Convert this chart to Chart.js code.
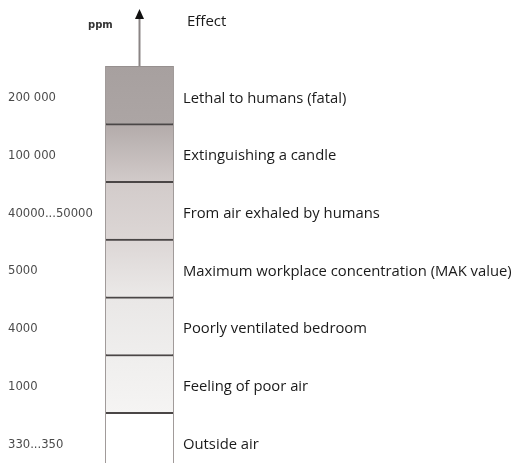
<!DOCTYPE html>
<html>
<head>
<meta charset="utf-8">
<script src="https://cdn.jsdelivr.net/npm/chart.js@4"></script>
<style>
  html, body { margin: 0; padding: 0; background: #fff; }
  #wrap { width: 515px; height: 463px; position: relative; }
</style>
</head>
<body>
<div id="wrap"><canvas id="co2Chart"></canvas></div>
<script>
// levels listed from the bottom of the column to the top
const ppmLabels = ['330...350', '1000', '4000', '5000', '40000...50000', '100 000', '200 000'];
const effectLabels = [
    'Outside air',
    'Feeling of poor air',
    'Poorly ventilated bedroom',
    'Maximum workplace concentration (MAK value)',
    'From air exhaled by humans',
    'Extinguishing a candle',
    'Lethal to humans (fatal)'
];
const bandSize = [1, 1, 1, 1, 1, 1, 1];
// top and bottom shade of each band
const bandTop = ['#ffffff', '#efeeed', '#e9e7e6', '#dcd6d5', '#d2cbca', '#b3abaa', '#a7a09f'];
const bandBottom = ['#ffffff', '#f5f4f3', '#efeeed', '#ebe9e8', '#dcd6d5', '#d1cac9', '#aca5a4'];

function bandFill(i) {
    return (context) => {
        const chart = context.chart;
        const y = chart.scales.y;
        if (!chart.chartArea || !y) return bandTop[i];
        const top = y.getPixelForValue(i + 1);
        const bottom = y.getPixelForValue(i);
        const g = chart.ctx.createLinearGradient(0, top, 0, bottom);
        g.addColorStop(0, bandTop[i]);
        g.addColorStop(1, bandBottom[i]);
        return g;
    };
}

const datasets = effectLabels.map((label, i) => ({
    label: label,
    data: [bandSize[i]],
    backgroundColor: bandFill(i),
    borderColor: i === effectLabels.length - 1 ? '#918b8a' : '#4a4646',
    borderWidth: { top: i === effectLabels.length - 1 ? 1 : 2, bottom: 0, left: 0, right: 0 },
    borderSkipped: false,
    barPercentage: 1,
    categoryPercentage: 1
}));

// arrow above the column plus the two headings
const arrowPlugin = {
    id: 'arrowHeadings',
    afterDraw(chart) {
        const { ctx, chartArea } = chart;
        const cx = (chartArea.left + chartArea.right) / 2;
        ctx.save();
        ctx.strokeStyle = '#8a8484';
        ctx.lineWidth = 2;
        ctx.beginPath();
        ctx.moveTo(cx, chartArea.top);
        ctx.lineTo(cx, 18);
        ctx.stroke();
        ctx.fillStyle = '#111';
        ctx.beginPath();
        ctx.moveTo(cx, 9);
        ctx.lineTo(cx - 4.5, 19);
        ctx.lineTo(cx + 4.5, 19);
        ctx.closePath();
        ctx.fill();

        ctx.textBaseline = 'middle';
        ctx.textAlign = 'left';
        ctx.fillStyle = '#333';
        ctx.font = 'bold 10px "DejaVu Sans"';
        ctx.fillText('ppm', 88, 25);
        ctx.fillStyle = '#1a1a1a';
        ctx.font = '15px "Open Sans"';
        ctx.fillText('Effect', 187, 22);
        ctx.restore();
    }
};

// the side axes carry only labels, no extra room above or below
function fitSide(width) {
    return (scale) => {
        scale.width = width;
        scale.paddingTop = 0;
        scale.paddingBottom = 0;
    };
}

new Chart(document.getElementById('co2Chart'), {
    type: 'bar',
    data: { labels: ['ppm'], datasets: datasets },
    options: {
        responsive: true,
        maintainAspectRatio: false,
        animation: false,
        layout: { padding: { top: 66, left: 8, right: 0, bottom: 0 } },
        plugins: {
            legend: { display: false },
            tooltip: { enabled: false }
        },
        scales: {
            x: {
                stacked: true,
                offset: true,
                afterFit: (scale) => { scale.height = 0; },
                ticks: { display: false },
                grid: { offset: true, color: '#a19b9a', lineWidth: 2, drawTicks: false },
                border: { display: false }
            },
            y: {
                stacked: true,
                min: 0.12,
                max: 7,
                position: 'left',
                afterFit: fitSide(98),
                afterBuildTicks: (scale) => {
                    scale.ticks = ppmLabels.map((_, i) => ({ value: i + 0.44 }));
                },
                ticks: {
                    crossAlign: 'far',
                    color: '#4a4a4a',
                    font: { family: 'DejaVu Sans', size: 11.6 },
                    callback: (value) => ppmLabels[Math.floor(value)]
                },
                grid: { display: false },
                border: { display: false }
            },
            y2: {
                min: 0.12,
                max: 7,
                position: 'right',
                afterFit: fitSide(342),
                afterBuildTicks: (scale) => {
                    scale.ticks = effectLabels.map((_, i) => ({ value: i + 0.44 }));
                },
                ticks: {
                    padding: 10,
                    color: '#1a1a1a',
                    font: { family: 'Open Sans', size: 14.8 },
                    callback: (value) => effectLabels[Math.floor(value)]
                },
                grid: { display: false, drawTicks: false },
                border: { display: false }
            }
        }
    },
    plugins: [arrowPlugin]
});
</script>
</body>
</html>
